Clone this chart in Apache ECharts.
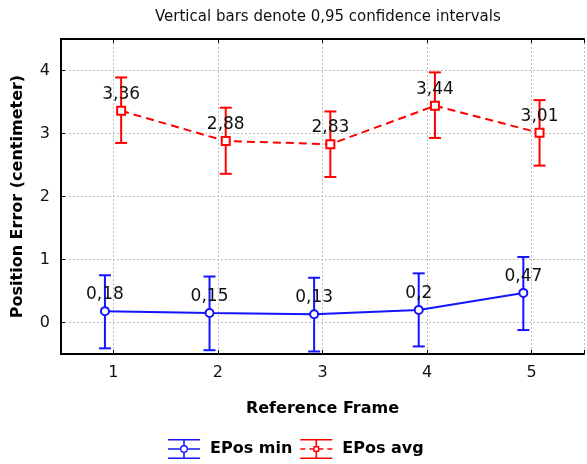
<!DOCTYPE html>
<html>
<head>
<meta charset="utf-8">
<script src="https://cdn.jsdelivr.net/npm/echarts@6/dist/echarts.min.js"></script>
<style>
html,body{margin:0;padding:0;background:#fff;}
#chart{width:587px;height:464px;}
</style>
</head>
<body>
<div id="chart"></div>
<script>
// ---- data ----
const frames = [1, 2, 3, 4, 5];
const xTickLabels = ['1', '2', '3', '4', '5'];
const yTickLabels = ['0', '1', '2', '3', '4'];
const seriesNames = ['EPos min', 'EPos avg'];
const eposMinMean = [0.18, 0.15, 0.13, 0.2, 0.47];
const eposMinLow  = [-0.41, -0.44, -0.46, -0.38, -0.12];
const eposMinHigh = [0.75, 0.73, 0.71, 0.78, 1.04];
const eposAvgMean = [3.36, 2.88, 2.83, 3.44, 3.01];
const eposAvgLow  = [2.85, 2.36, 2.31, 2.93, 2.49];
const eposAvgHigh = [3.89, 3.41, 3.35, 3.97, 3.53];

// ---- style ----
const BLUE = '#1414ff';
const RED = '#ff0000';
const OFF_MIN = -0.08, OFF_AVG = 0.075;
const FONT = 'DejaVu Sans';

const fmt = v => String(v).replace('.', ',');

function pts(mean, off) {
  return frames.map((f, i) => [f + off, mean[i]]);
}
function ci(low, high, off) {
  return frames.map((f, i) => [f + off, low[i], high[i]]);
}
function errRender(color) {
  return function (params, api) {
    const x = api.value(0);
    const pLo = api.coord([x, api.value(1)]);
    const pHi = api.coord([x, api.value(2)]);
    const hw = 6;
    const st = { stroke: color, lineWidth: 2 };
    return {
      type: 'group',
      children: [
        { type: 'line', shape: { x1: pHi[0], y1: pHi[1], x2: pLo[0], y2: pLo[1] }, style: st },
        { type: 'line', shape: { x1: pHi[0] - hw, y1: pHi[1], x2: pHi[0] + hw, y2: pHi[1] }, style: st },
        { type: 'line', shape: { x1: pLo[0] - hw, y1: pLo[1], x2: pLo[0] + hw, y2: pLo[1] }, style: st }
      ]
    };
  };
}

// legend glyphs: error-bar I-beam with marker, 32x20 box
const iconMin = 'path://M0,0 L32,0 L32,1.6 L0,1.6 Z M0,18.4 L32,18.4 L32,20 L0,20 Z ' +
  'M15.2,1.6 L16.8,1.6 L16.8,6 L15.2,6 Z M15.2,14 L16.8,14 L16.8,18.4 L15.2,18.4 Z ' +
  'M0,9.2 L11.9,9.2 L11.9,10.8 L0,10.8 Z M20.1,9.2 L32,9.2 L32,10.8 L20.1,10.8 Z ' +
  'M12,10 A4,4 0 1,1 20,10 A4,4 0 1,1 12,10 Z M13.4,10 A2.6,2.6 0 1,0 18.6,10 A2.6,2.6 0 1,0 13.4,10 Z';
const iconAvg = 'path://M0,0 L32,0 L32,1.6 L0,1.6 Z M0,18.4 L32,18.4 L32,20 L0,20 Z ' +
  'M15.2,1.6 L16.8,1.6 L16.8,7 L15.2,7 Z M15.2,13 L16.8,13 L16.8,18.4 L15.2,18.4 Z ' +
  'M0,9.2 L5,9.2 L5,10.8 L0,10.8 Z M9,9.2 L13,9.2 L13,10.8 L9,10.8 Z ' +
  'M19,9.2 L23,9.2 L23,10.8 L19,10.8 Z M27,9.2 L32,9.2 L32,10.8 L27,10.8 Z ' +
  'M13,7 L19,7 L19,13 L13,13 Z M14.4,8.4 L14.4,11.6 L17.6,11.6 L17.6,8.4 Z';

const chart = echarts.init(document.getElementById('chart'), null, { renderer: 'canvas' });

const gridLine = { show: true, lineStyle: { color: '#bdbdbd', type: [2, 2], width: 1 } };

chart.setOption({
  backgroundColor: '#ffffff',
  animation: false,
  title: {
    text: 'Vertical bars denote 0,95 confidence intervals',
    left: 155, top: 10, padding: 0,
    textStyle: { fontFamily: FONT, fontSize: 15, fontWeight: 'normal', color: '#111' }
  },
  legend: {
    left: 168, top: 439, padding: 0,
    itemWidth: 32, itemHeight: 20, itemGap: 8,
    selectedMode: false,
    textStyle: { fontFamily: FONT, fontSize: 16, fontWeight: 'bold', color: '#000', padding: [0, 0, 0, 5] },
    data: [
      { name: seriesNames[0], icon: iconMin, itemStyle: { color: BLUE, borderWidth: 0 } },
      { name: seriesNames[1], icon: iconAvg, itemStyle: { color: RED, borderWidth: 0 } }
    ]
  },
  grid: { left: 61, top: 39, width: 529, height: 315, show: false },
  xAxis: [{
    type: 'value', min: 0.5, max: 5.5, splitNumber: 5,
    position: 'bottom',
    name: 'Reference Frame', nameLocation: 'middle', nameGap: 47,
    nameTextStyle: { fontFamily: FONT, fontSize: 16, fontWeight: 'bold', color: '#000' },
    axisLine: { show: true, onZero: false, lineStyle: { color: '#000', width: 2 } },
    axisTick: { show: true, inside: true, length: 4, lineStyle: { color: '#000', width: 1 } },
    axisLabel: {
      margin: 11, fontFamily: FONT, fontSize: 16, color: '#111',
      formatter: v => { const i = frames.indexOf(v); return i >= 0 ? xTickLabels[i] : ''; }
    },
    splitLine: gridLine
  }, {
    type: 'value', min: 0.5, max: 5.5, splitNumber: 5,
    position: 'top',
    axisLine: { show: true, onZero: false, lineStyle: { color: '#000', width: 2 } },
    axisTick: { show: true, inside: true, length: 4, lineStyle: { color: '#000', width: 1 } },
    axisLabel: { show: false },
    splitLine: { show: false }
  }],
  yAxis: {
    type: 'value', min: -0.5, max: 4.5, splitNumber: 5,
    name: 'Position Error (centimeter)', nameLocation: 'middle', nameGap: 35,
    nameTextStyle: { fontFamily: FONT, fontSize: 16, fontWeight: 'bold', color: '#000' },
    axisLine: { show: true, onZero: false, lineStyle: { color: '#000', width: 2 } },
    axisTick: { show: true, inside: true, length: 4, lineStyle: { color: '#000', width: 1 } },
    axisLabel: {
      margin: 11, fontFamily: FONT, fontSize: 16, color: '#111',
      formatter: v => { const i = yTickLabels.indexOf(String(v)); return i >= 0 ? yTickLabels[i] : ''; }
    },
    splitLine: gridLine
  },
  series: [
    {
      name: 'ci min', type: 'custom', xAxisIndex: 0, z: 2,
      renderItem: errRender(BLUE), data: ci(eposMinLow, eposMinHigh, OFF_MIN)
    },
    {
      name: 'ci avg', type: 'custom', xAxisIndex: 0, z: 2,
      renderItem: errRender(RED), data: ci(eposAvgLow, eposAvgHigh, OFF_AVG)
    },
    {
      name: seriesNames[0], type: 'line', xAxisIndex: 0, z: 5,
      data: pts(eposMinMean, OFF_MIN),
      symbol: 'emptyCircle', symbolSize: 8,
      itemStyle: { color: BLUE, borderWidth: 1.5 },
      lineStyle: { color: BLUE, width: 2 },
      label: {
        show: true, position: 'top', distance: 3,
        fontFamily: FONT, fontSize: 17, color: '#111',
        formatter: p => fmt(p.value[1])
      }
    },
    {
      name: seriesNames[1], type: 'line', xAxisIndex: 0, z: 5,
      data: pts(eposAvgMean, OFF_AVG),
      symbol: 'emptyRect', symbolSize: 8,
      itemStyle: { color: RED, borderWidth: 1.5 },
      lineStyle: { color: RED, width: 2, type: [8, 5] },
      label: {
        show: true, position: 'top', distance: 3,
        fontFamily: FONT, fontSize: 17, color: '#111',
        formatter: p => fmt(p.value[1])
      }
    }
  ]
});
</script>
</body>
</html>
